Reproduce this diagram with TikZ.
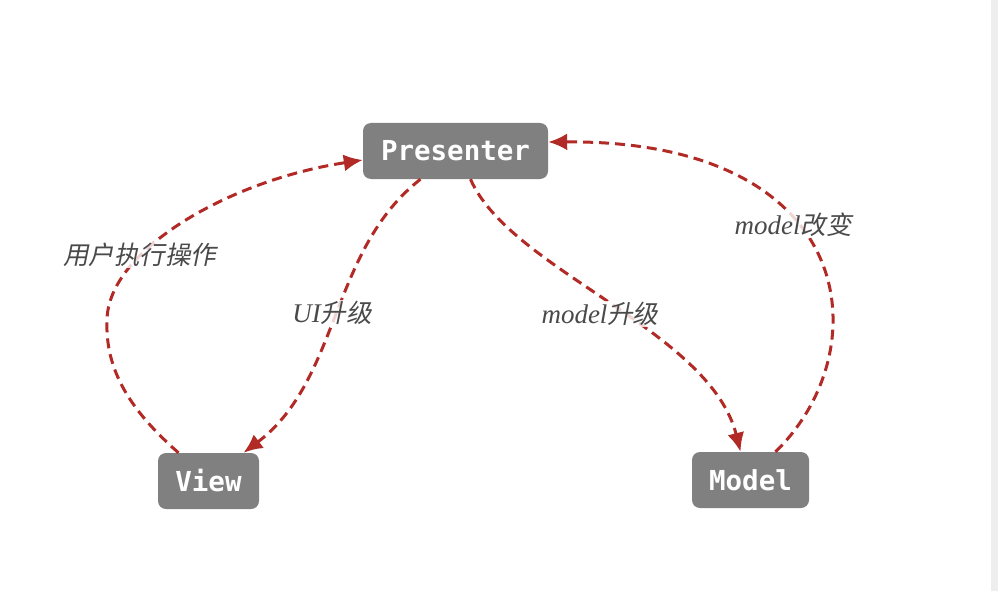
\documentclass[tikz,border=0pt]{standalone}
\usepackage{fontspec}
\setmainfont{Liberation Serif}
\newfontfamily\cjk[FakeSlant=0.2]{Noto Sans CJK SC}
\newfontfamily\nodemono{DejaVu Sans Mono Bold}
\usetikzlibrary{arrows.meta}
\definecolor{boxgray}{HTML}{808080}
\definecolor{arrred}{HTML}{B22A26}
\definecolor{labgray}{HTML}{4A4A4A}
\definecolor{strip}{HTML}{EEEEEE}
\tikzset{
  box/.style={fill=boxgray, rounded corners=8pt, text=white, inner sep=0pt,
    font=\nodemono\fontsize{27.5}{30}\selectfont, minimum height=56pt},
  flow/.style={draw=arrred, line width=3pt, dash pattern=on 10pt off 6pt,
    -{Latex[length=19pt,width=17pt]}},
  lab/.style={fill=white, fill opacity=0.8, text opacity=1, text=labgray, inner sep=1pt},
}
\newcommand{\lat}[1]{{\itshape\fontsize{27}{30}\selectfont #1}}
\newcommand{\zh}[1]{{\cjk\fontsize{25.5}{30}\selectfont #1}}
\begin{document}
\begin{tikzpicture}[x=1pt,y=-1pt]
\useasboundingbox (0,0) rectangle (998,591);
\fill[strip] (991,0) rectangle (998,591);
\node[box, minimum width=185pt] (P) at (455.5,151) {Presenter};
\node[box, minimum width=101pt] (V) at (208.5,481) {View};
\node[box, minimum width=117pt] (M) at (750.5,480) {Model};
\coordinate (v1) at ([xshift=-30pt]V.north);
\coordinate (p1) at ([yshift=-9pt]P.west);
\coordinate (p2) at ([xshift=-35pt]P.south);
\coordinate (p3) at ([xshift=15pt]P.south);
\coordinate (p4) at ([yshift=9pt]P.east);
\coordinate (v2) at ([xshift=35pt]V.north);
\coordinate (m1) at ([xshift=-10pt]M.north);
\coordinate (m2) at ([xshift=25pt]M.north);
\draw[flow] (v1) .. controls (130,410) and (105,370) .. (107,320)
  .. controls (108,250) and (230,180) .. (p1);
\draw[flow] (p2) .. controls (330,250) and (340,380) .. (v2);
\draw[flow] (p3) .. controls (510,270) and (710,330) .. (m1);
\draw[flow] (m2) .. controls (880,350) and (860,140) .. (p4);
\node[lab] (l1) at (139.5,255) {\zh{用户执行操作}};
\node[lab] (l2) at (332,313) {\lat{UI}\zh{升级}};
\node[lab] (l3) at (600,314) {\lat{model}\zh{升级}};
\node[lab] (l4) at (793,225) {\lat{model}\zh{改变}};
\end{tikzpicture}
\end{document}
